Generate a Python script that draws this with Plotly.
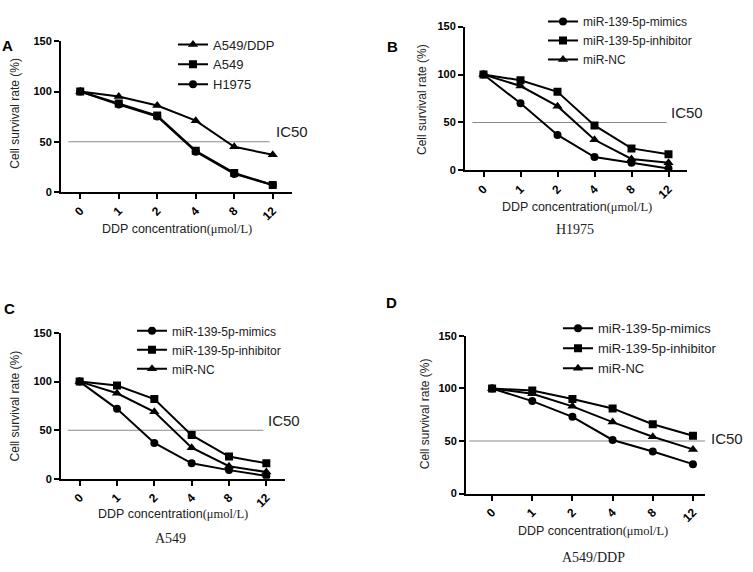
import plotly.graph_objects as go

conc = ["0", "1", "2", "4", "8", "12"]

# Panel A
a_names = ["A549/DDP", "A549", "H1975"]
a_a549ddp = [100, 95, 86, 71, 45, 37]
a_a549 = [100, 88, 76, 41, 19, 7]
a_h1975 = [100, 87, 75, 40, 18, 7]

# Panel B (H1975)
b_mimics = [100, 70, 37, 14, 8, 2]
b_inhib = [100, 94, 82, 47, 23, 17]
b_nc = [100, 88, 67, 32, 12, 8]

# Panel C (A549)
c_mimics = [100, 72, 37, 16, 9, 3]
c_inhib = [100, 96, 82, 45, 23, 16]
c_nc = [100, 88, 69, 32, 13, 7]

# Panel D (A549/DDP)
d_mimics = [100, 88, 73, 51, 40, 28]
d_inhib = [100, 98, 90, 81, 66, 55]
d_nc = [100, 95, 83, 68, 54, 42]

mi_names = ["miR-139-5p-mimics", "miR-139-5p-inhibitor", "miR-NC"]

W, H = 753, 572
SANS = "Liberation Sans, Arial, sans-serif"
SERIF = "Liberation Serif, Times New Roman, serif"

def px(x):
    return x / W

def py(y):
    return 1 - y / H

fig = go.Figure()

panels = [
    # (axis suffix, legend name, series (name, values, symbol, legend rank), xdomain px, ydomain px, xrange)
    ("", "legend", [(a_names[0], a_a549ddp, "triangle-up", 1), (a_names[2], a_h1975, "circle", 3),
                    (a_names[1], a_a549, "square", 2)],
     (61, 292), (190, 36), [-0.5, 5.5]),
    ("2", "legend2", [(mi_names[0], b_mimics, "circle", 1), (mi_names[1], b_inhib, "square", 2),
                      (mi_names[2], b_nc, "triangle-up", 3)],
     (465, 687), (168, 21), [-0.5, 5.5]),
    ("3", "legend3", [(mi_names[0], c_mimics, "circle", 1), (mi_names[1], c_inhib, "square", 2),
                      (mi_names[2], c_nc, "triangle-up", 3)],
     (61, 285), (483, 334), [-0.5, 5.5]),
    ("4", "legend4", [(mi_names[0], d_mimics, "circle", 1), (mi_names[1], d_inhib, "square", 2),
                      (mi_names[2], d_nc, "triangle-up", 3)],
     (466, 705), (498, 337), [-0.65, 5.3]),
]

for suf, leg, series, xd, yd, xr in panels:
    for name, vals, sym, rank in series:
        fig.add_trace(go.Scatter(
            x=conc, y=vals, name=name, mode="lines+markers",
            line=dict(color="black", width=2),
            marker=dict(symbol=sym, size=9 if sym == "triangle-up" else 8, color="black"),
            xaxis="x" + suf, yaxis="y" + suf, legend=leg, legendrank=rank,
            hoverinfo="skip",
        ))
    fig.layout["xaxis" + suf] = dict(
        domain=[px(xd[0]), px(xd[1])], anchor="y" + suf, type="category",
        range=xr, showgrid=False, zeroline=False, showline=True,
        linecolor="black", linewidth=2, ticks="outside", ticklen=5, tickwidth=2,
        tickcolor="black", tickangle=-45,
        tickfont=dict(family=SANS, size=12, color="black", weight="bold"),
        fixedrange=True,
    )
    fig.layout["yaxis" + suf] = dict(
        domain=[py(yd[0]), py(yd[1])], anchor="x" + suf, range=[0, 150],
        tickvals=[0, 50, 100, 150], showgrid=False, zeroline=False, showline=True,
        linecolor="black", linewidth=2, ticks="outside", ticklen=5, tickwidth=2,
        tickcolor="black",
        tickfont=dict(family=SANS, size=11, color="black", weight="bold"),
        fixedrange=True,
    )

# IC50 reference lines (x0, x1 in category index units)
ic50_lines = [("", -0.31, 4.92), ("2", -0.3, 4.95), ("3", -0.32, 4.92), ("4", -0.57, 5.37)]
for suf, x0, x1 in ic50_lines:
    fig.add_shape(type="line", xref="x" + suf, yref="y" + suf, x0=x0, x1=x1, y0=50, y1=50,
                  line=dict(color="#8a8a8a", width=1.2), layer="below")

ic50_text = [(274, 128), (669, 109), (266, 423), (709, 442)]
for x, y in ic50_text:
    fig.add_annotation(x=px(x), y=py(y), xref="paper", yref="paper", text="IC50", showarrow=False,
                       xanchor="left", yanchor="middle",
                       font=dict(family=SANS, size=15, color="#222"))

# Axis titles
ytitle_pos = [(15, 110), (422, 95), (15, 409), (425, 417)]
for x, y in ytitle_pos:
    fig.add_annotation(x=px(x), y=py(y), xref="paper", yref="paper", text="Cell survival rate (%)",
                       showarrow=False, textangle=-90, xanchor="center", yanchor="middle",
                       font=dict(family=SANS, size=12, color="#222"))

xt = "DDP concentration<span style='font-family:Liberation Serif, Times New Roman, serif'>(μmol/L)</span>"
xtitle_pos = [(177, 228), (577, 205), (173, 519), (593, 536)]
for x, y in xtitle_pos:
    fig.add_annotation(x=px(x), y=py(y), xref="paper", yref="paper", text=xt,
                       showarrow=False, xanchor="center", yanchor="middle",
                       font=dict(family=SANS, size=12.5, color="#222"))

# Sub-titles
subs = [("H1975", 575, 228), ("A549", 170, 544), ("A549/DDP", 593, 563)]
for t, x, y in subs:
    fig.add_annotation(x=px(x), y=py(y), xref="paper", yref="paper", text=t,
                       showarrow=False, xanchor="center", yanchor="middle",
                       font=dict(family=SERIF, size=14, color="#222"))

# Panel letters
letters = [("A", 8, 40), ("B", 392, 41), ("C", 9, 309), ("D", 391, 303)]
for t, x, y in letters:
    fig.add_annotation(x=px(x), y=py(y), xref="paper", yref="paper", text="<b>" + t + "</b>",
                       showarrow=False, xanchor="center", yanchor="middle",
                       font=dict(family=SANS, size=15, color="black"))

legend_common = dict(bgcolor="rgba(0,0,0,0)", borderwidth=0, xanchor="left", yanchor="top",
                     itemwidth=30, tracegroupgap=0, traceorder="normal")
fig.update_layout(
    legend=dict(x=px(173), y=py(24), font=dict(family=SANS, size=13, color="#222"), **legend_common),
    legend2=dict(x=px(543), y=py(1), font=dict(family=SANS, size=12, color="#222"), **legend_common),
    legend3=dict(x=px(132), y=py(317), font=dict(family=SANS, size=12, color="#222"), **legend_common),
    legend4=dict(x=px(558), y=py(314), font=dict(family=SANS, size=13, color="#222"), **legend_common),
)

fig.update_layout(
    width=W, height=H, margin=dict(l=0, r=0, t=0, b=0),
    paper_bgcolor="white", plot_bgcolor="white", showlegend=True,
    hovermode=False,
)

fig.write_html("out.html", post_script="document.body.style.margin='0';",
               config={"displayModeBar": False})
